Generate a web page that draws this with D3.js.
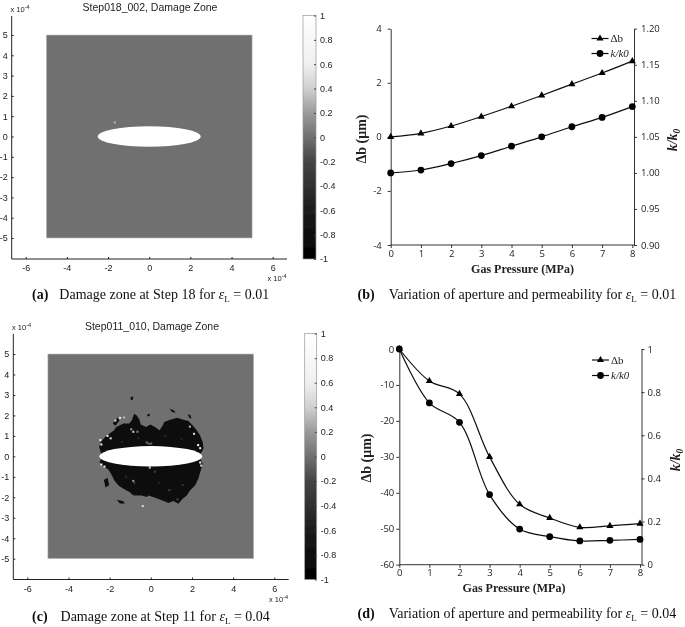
<!DOCTYPE html>
<html>
<head>
<meta charset="utf-8">
<script src="https://cdnjs.cloudflare.com/ajax/libs/d3/7.8.5/d3.min.js"></script>
<style>
  html, body { margin: 0; padding: 0; background: #fff; }
  svg { display: block; }
  .mat text { font-family: "Liberation Sans", Arial, sans-serif; font-size: 9px; fill: #222; }
  .xl text { font-family: "Open Sans", sans-serif; font-size: 9.5px; fill: #222; }
  .serif { font-family: "Liberation Serif", serif; fill: #111; }
</style>
</head>
<body>
<svg id="chart" width="685" height="627"></svg>
<script>
// Gas pressure categories, shared by the two line panels
const pressure = [0, 1, 2, 3, 4, 5, 6, 7, 8];

// Panel (b), eL = 0.01
const apertureLow = [0, 0.13, 0.4, 0.75, 1.13, 1.53, 1.95, 2.36, 2.8];
const permeabilityLow = [1.0, 1.004, 1.013, 1.024, 1.037, 1.05, 1.064, 1.077, 1.092];

// Panel (d), eL = 0.04
const apertureHigh = [0, -8.9, -12.5, -30, -43.2, -47, -49.6, -49.2, -48.6];
const permeabilityHigh = [1, 0.75, 0.66, 0.325, 0.165, 0.13, 0.11, 0.113, 0.117];

// Damage maps, all in units of 1e-4 m
const gridTicks = [-6, -4, -2, 0, 2, 4, 6];
const gridTicksY = [-5, -4, -3, -2, -1, 0, 1, 2, 3, 4, 5];
const colorTicks = [-1, -0.8, -0.6, -0.4, -0.2, 0, 0.2, 0.4, 0.6, 0.8, 1];
const specimenExtent = [-5, 5];
const flawRadii = [2.5, 0.5];

// Single damaged element in panel (a)
const specksLow = [[-1.67, 0.69, 0.3]];

// Outline of the failed region above and below the flaw in panel (c)
const damageUpper = [[-2.51, 0.46], [-2.43, 0.7], [-2.22, 0.94], [-1.97, 1.14], [-1.78, 1.27], [-1.68, 1.43],
  [-1.57, 1.48], [-1.33, 1.6], [-1.04, 1.6], [-0.91, 1.79], [-0.81, 2.08], [-0.68, 2.0], [-0.55, 1.79],
  [-0.49, 1.56], [-0.23, 1.43], [-0.03, 1.55], [0.21, 1.43], [0.42, 1.27], [0.58, 1.51], [0.65, 1.68],
  [0.94, 1.79], [1.29, 1.89], [1.59, 1.79], [1.83, 1.73], [2.04, 1.51], [2.23, 1.27], [2.39, 1.03],
  [2.52, 0.7], [2.56, 0.37], [2.4, 0.1], [0, 0], [-2.4, 0.1]];
const damageLower = [[-2.49, -0.28], [-2.38, -0.44], [-2.22, -0.55], [-2.05, -0.65], [-1.89, -0.93], [-1.78, -1.17],
  [-1.57, -1.42], [-1.33, -1.58], [-1.04, -1.74], [-0.84, -1.91], [-0.44, -1.91], [-0.19, -1.99], [-0.11, -1.91],
  [0.21, -2.02], [0.53, -2.15], [0.86, -2.28], [1.1, -2.18], [1.34, -2.31], [1.55, -2.07], [1.75, -1.91],
  [1.91, -1.66], [2.15, -1.42], [2.31, -1.09], [2.43, -0.68], [2.52, -0.36], [2.4, -0.1], [0, 0], [-2.4, -0.1]];
const damageIslands = [
  [[-1.85, 1.6], [-1.62, 1.88], [-1.52, 1.75], [-1.72, 1.5]],
  [[-2.28, -1.15], [-2.1, -1.05], [-2.02, -1.4], [-2.2, -1.52]],
  [[-1.65, -2.12], [-1.35, -2.18], [-1.25, -2.3], [-1.5, -2.3]],
  [[-0.98, 2.9], [-0.85, 2.92], [-0.88, 2.75], [-0.98, 2.76]],
  [[0.92, 2.32], [1.12, 2.25], [1.2, 2.12], [1.02, 2.18]],
  [[1.8, 2.06], [1.92, 2.02], [1.98, 1.84], [1.86, 1.9]],
  [[-0.18, 2.05], [-0.04, 2.08], [-0.06, 1.96], [-0.16, 1.96]]
];
// x, y, damage value of lighter elements scattered through panel (c)
const specksHigh = [[-0.39, -2.43, 0.5], [-1.49, 1.88, 0.6], [-1.72, 1.75, 0.5], [-1.3, 1.9, 0.3], [-0.85, 1.2, 0.4],
  [-0.65, 1.2, 0.1], [-0.95, 1.32, 0.2], [-2.4, 0.58, 0.8], [-2.45, 0.8, 0.6], [-2.1, 1.0, 0.6], [-1.95, 0.88, 0.5],
  [2.3, 0.55, 0.8], [2.4, 0.4, 0.6], [2.1, 1.1, 0.5], [1.9, 1.45, 0.3], [-2.4, -0.4, 0.8], [-2.25, -0.5, 0.6],
  [2.4, -0.3, 0.9], [2.45, -0.45, 0.5], [-0.1, 0.62, 0], [-0.2, 0.68, 0], [0.02, 0.62, 0], [-0.8, -1.3, -0.3],
  [-0.85, -1.2, 0.2], [0.9, -1.65, -0.2], [1.3, -2.1, -0.2], [1.55, -1.4, -0.4], [0.2, -0.75, -0.3], [-0.05, -0.55, 0.4],
  [-1.4, 0.7, -0.5], [-0.6, 0.9, -0.5], [0.7, 1.0, -0.5], [1.5, 0.85, -0.5], [-1.2, -1.0, -0.5], [0.4, -1.3, -0.5]];

const legendLabels = ["\u0394b", "k/k0"];
const pressureTicks = pressure;
const leftTicksLow = [-4, -2, 0, 2, 4];
const rightTicksLow = [0.9, 0.95, 1.0, 1.05, 1.1, 1.15, 1.2];
const leftTicksHigh = [-60, -50, -40, -30, -20, -10, 0];
const rightTicksHigh = [0, 0.2, 0.4, 0.6, 0.8, 1];

const svg = d3.select("#chart");
const defs = svg.append("defs");
const root = svg.append("g").attr("filter", "url(#soft)");

// The source is a scanned print, so everything is softened a little
defs.append("filter").attr("id", "soft")
  .attr("x", 0).attr("y", 0).attr("width", 1).attr("height", 1)
  .append("feGaussianBlur").attr("stdDeviation", 0.35);

// Damage value to grey level, shared by the maps and their colour bars
const damageColor = d3.scaleLinear()
  .domain([-1, -0.6, -0.2, 0, 0.2, 0.4, 0.6, 1])
  .range(["#000000", "#1c1c1c", "#444444", "#707070", "#9a9a9a", "#d0d0d0", "#f0f0f0", "#ffffff"]);

// Plain hyphen for negatives, as in the original
const plainTick = d => String(d);

function styleAxis(g, color) {
  g.select(".domain").attr("stroke", color).attr("stroke-width", 1);
  g.selectAll(".tick line").attr("stroke", color);
}

function powerLabel(g, x, y) {
  const t = g.append("text").attr("x", x).attr("y", y).style("font-size", "7.5px");
  t.append("tspan").text("x 10");
  t.append("tspan").attr("dy", -3).style("font-size", "5.5px").text("-4");
}

function damagePlot(cfg) {
  const g = root.append("g").attr("class", "mat");
  const x = d3.scaleLinear().domain([-6, 6]).range([cfg.x6n, cfg.x6p]);
  const y = d3.scaleLinear().domain([-5, 5]).range([cfg.y5n, cfg.y5p]);

  g.append("rect")
    .attr("x", x(specimenExtent[0]))
    .attr("y", y(specimenExtent[1]))
    .attr("width", x(specimenExtent[1]) - x(specimenExtent[0]))
    .attr("height", y(specimenExtent[0]) - y(specimenExtent[1]))
    .attr("fill", damageColor(0))
    .attr("stroke", "#c4c4c4").attr("stroke-width", 0.6);

  const line = d3.line().x(d => x(d[0])).y(d => y(d[1]));
  (cfg.regions || []).forEach(r => {
    g.append("path").attr("d", line(r) + "Z").attr("fill", "#101010");
  });

  g.selectAll(".speck").data(cfg.specks).enter().append("rect")
    .attr("class", "speck")
    .attr("x", d => x(d[0]) - 1)
    .attr("y", d => y(d[1]) - 1)
    .attr("width", 2).attr("height", 2)
    .attr("fill", d => damageColor(d[2]));

  // The flaw itself
  g.append("ellipse")
    .attr("cx", x(0)).attr("cy", y(0))
    .attr("rx", x(flawRadii[0]) - x(0))
    .attr("ry", y(0) - y(flawRadii[1]))
    .attr("fill", "#fff");

  // Axes, MATLAB style with the ticks inside
  const xAxis = g.append("g")
    .attr("transform", `translate(0,${cfg.bottom})`)
    .call(d3.axisBottom(x).tickValues(gridTicks).tickFormat(plainTick)
      .tickSizeInner(-2).tickSizeOuter(0).tickPadding(6));
  xAxis.select(".domain").attr("d", `M${cfg.left},0H${cfg.right}`);
  styleAxis(xAxis, "#222");

  const yAxis = g.append("g")
    .attr("transform", `translate(${cfg.left},0)`)
    .call(d3.axisLeft(y).tickValues(gridTicksY).tickFormat(plainTick)
      .tickSizeInner(-2).tickSizeOuter(0).tickPadding(4));
  yAxis.select(".domain").attr("d", `M0,${cfg.top}V${cfg.bottom}`);
  styleAxis(yAxis, "#222");

  g.append("text")
    .attr("x", cfg.titleX).attr("y", cfg.titleY)
    .attr("text-anchor", "middle")
    .style("font-size", "10.5px")
    .text(cfg.title);

  powerLabel(g, cfg.powerTop[0], cfg.powerTop[1]);
  powerLabel(g, cfg.powerBottom[0], cfg.powerBottom[1]);

  // Colour bar
  const bar = d3.scaleLinear().domain([-1, 1]).range([cfg.barBottom, cfg.barTop]);
  const gradId = "bar" + cfg.id;
  defs.append("linearGradient").attr("id", gradId)
    .attr("x1", 0).attr("y1", 1).attr("x2", 0).attr("y2", 0)
    .selectAll("stop").data(damageColor.domain()).enter().append("stop")
    .attr("offset", d => (d + 1) / 2)
    .attr("stop-color", d => damageColor(d));

  g.append("rect")
    .attr("x", cfg.barX).attr("y", cfg.barTop)
    .attr("width", cfg.barW).attr("height", cfg.barBottom - cfg.barTop)
    .attr("fill", `url(#${gradId})`)
    .attr("stroke", "#999").attr("stroke-width", 0.7);

  const barAxis = g.append("g")
    .attr("transform", `translate(${cfg.barX + cfg.barW},0)`)
    .call(d3.axisRight(bar).tickValues(colorTicks).tickFormat(plainTick)
      .tickSizeInner(-2).tickSizeOuter(0).tickPadding(4));
  barAxis.select(".domain").remove();
  barAxis.selectAll(".tick line").attr("stroke", "#444");
}

function pressurePlot(cfg) {
  const g = root.append("g").attr("class", "xl");
  const x = d3.scaleLinear().domain([0, 8]).range([cfg.x0, cfg.x8]);
  const yL = d3.scaleLinear().domain(cfg.leftDomain).range([cfg.bottom, cfg.top]);
  const yR = d3.scaleLinear().domain(cfg.rightDomain).range([cfg.bottom, cfg.top]);

  const xAxis = g.append("g").attr("transform", `translate(0,${cfg.bottom})`)
    .call(d3.axisBottom(x).tickValues(pressureTicks).tickSizeInner(3).tickSizeOuter(0).tickPadding(2));
  xAxis.select(".domain").attr("d", `M${cfg.x0},0H${cfg.rightAxis}`);
  styleAxis(xAxis, "#333");

  const leftAxis = g.append("g").attr("transform", `translate(${cfg.x0},0)`)
    .call(d3.axisLeft(yL).tickValues(cfg.leftTicks).tickFormat(plainTick)
      .tickSizeInner(3).tickSizeOuter(0).tickPadding(cfg.leftPad));
  styleAxis(leftAxis, "#333");

  const rightAxis = g.append("g").attr("transform", `translate(${cfg.rightAxis},0)`)
    .call(d3.axisRight(yR).tickValues(cfg.rightTicks).tickFormat(d3.format(cfg.rightFormat))
      .tickSizeInner(3).tickSizeOuter(0).tickPadding(cfg.rightPad));
  styleAxis(rightAxis, "#333");

  const curve = d3.curveCatmullRom.alpha(0.5);
  const series = [
    {values: cfg.aperture, y: yL, symbol: d3.symbolTriangle, size: 22},
    {values: cfg.permeability, y: yR, symbol: d3.symbolCircle, size: 36}
  ];

  series.forEach(s => {
    g.append("path")
      .attr("d", d3.line().curve(curve).x((d, i) => x(pressure[i])).y(d => s.y(d))(s.values))
      .attr("fill", "none").attr("stroke", "#111").attr("stroke-width", 1.2);
    g.selectAll(null).data(s.values).enter().append("path")
      .attr("d", d3.symbol().type(s.symbol).size(s.size))
      .attr("transform", (d, i) => `translate(${x(pressure[i])},${s.y(d)})`)
      .attr("fill", "#000");
  });

  // Legend
  series.forEach((s, i) => {
    const ly = cfg.legendY[i];
    g.append("line")
      .attr("x1", cfg.legendX).attr("x2", cfg.legendX + 17)
      .attr("y1", ly).attr("y2", ly)
      .attr("stroke", "#111").attr("stroke-width", 1.2);
    g.append("path")
      .attr("d", d3.symbol().type(s.symbol).size(s.size))
      .attr("transform", `translate(${cfg.legendX + 8.5},${ly})`)
      .attr("fill", "#000");
    g.append("text")
      .attr("x", cfg.legendX + 19).attr("y", ly + 3.5)
      .style("font-family", "'Liberation Serif', serif")
      .style("font-size", "11px")
      .style("font-style", i === 1 ? "italic" : "normal")
      .text(legendLabels[i]);
  });

  // Axis titles
  g.append("text")
    .attr("x", cfg.xTitle[0]).attr("y", cfg.xTitle[1])
    .attr("text-anchor", "middle")
    .style("font-family", "'Liberation Serif', serif")
    .style("font-size", "12px").style("font-weight", "bold")
    .text("Gas Pressure (MPa)");

  g.append("text")
    .attr("transform", `translate(${cfg.leftTitle[0]},${cfg.leftTitle[1]}) rotate(-90)`)
    .attr("text-anchor", "middle")
    .style("font-family", "'Liberation Serif', serif")
    .style("font-size", "14px").style("font-weight", "bold")
    .text("\u0394b (\u03bcm)");

  const kTitle = g.append("text")
    .attr("transform", `translate(${cfg.rightTitle[0]},${cfg.rightTitle[1]}) rotate(-90)`)
    .attr("text-anchor", "middle")
    .style("font-family", "'Liberation Serif', serif")
    .style("font-size", "14px").style("font-weight", "bold").style("font-style", "italic");
  kTitle.append("tspan").text("k/k");
  kTitle.append("tspan").attr("dy", 3).style("font-size", "9.5px").text("0");
}

function caption(x, y, tag, gap, body, value) {
  const t = root.append("text").attr("class", "serif").attr("x", x).attr("y", y)
    .style("font-size", "14px");
  t.append("tspan").style("font-weight", "bold").text(tag);
  t.append("tspan").attr("dx", gap).text(body + " ");
  t.append("tspan").style("font-style", "italic").text("\u03b5");
  t.append("tspan").attr("dy", 3).style("font-size", "9px").text("L");
  t.append("tspan").attr("dy", -3).text(" = " + value);
}

damagePlot({
  id: "a", title: "Step018_002, Damage Zone", titleX: 150, titleY: 11,
  x6n: 25.7, x6p: 272.7, y5n: 238, y5p: 35,
  left: 11.7, right: 287, top: 16, bottom: 259,
  powerTop: [10.5, 12], powerBottom: [267.5, 281],
  barX: 303, barW: 13, barTop: 15.5, barBottom: 259,
  regions: [], specks: specksLow
});

damagePlot({
  id: "c", title: "Step011_010, Damage Zone", titleX: 152, titleY: 330,
  x6n: 27.3, x6p: 274.3, y5n: 558.7, y5p: 354,
  left: 13.3, right: 288.7, top: 334, bottom: 579.5,
  powerTop: [12, 330], powerBottom: [269, 602],
  barX: 304.7, barW: 12, barTop: 333.5, barBottom: 579.5,
  regions: [damageUpper, damageLower].concat(damageIslands), specks: specksHigh
});

pressurePlot({
  x0: 390.7, x8: 632.3, rightAxis: 634, top: 28.7, bottom: 245,
  leftDomain: [-4, 4], rightDomain: [0.9, 1.2],
  leftTicks: leftTicksLow, rightTicks: rightTicksLow, rightFormat: ".2f", leftPad: 6, rightPad: 4,
  aperture: apertureLow, permeability: permeabilityLow,
  legendX: 591.5, legendY: [38.5, 53.5],
  xTitle: [522.5, 273], leftTitle: [366, 139], rightTitle: [677, 140]
});

pressurePlot({
  x0: 399.3, x8: 640, rightAxis: 641.5, top: 349, bottom: 564.7,
  leftDomain: [-60, 0], rightDomain: [0, 1],
  leftTicks: leftTicksHigh, rightTicks: rightTicksHigh, rightFormat: "~g", leftPad: 2, rightPad: 3,
  aperture: apertureHigh, permeability: permeabilityHigh,
  legendX: 592, legendY: [360, 375.5],
  xTitle: [514, 592], leftTitle: [371, 458], rightTitle: [680, 460]
});

caption(32, 299, "(a)", 11, "Damage zone at Step 18 for", "0.01");
caption(357.5, 299, "(b)", 14, "Variation of aperture and permeability for", "0.01");
caption(32, 620.5, "(c)", 13, "Damage zone at Step 11 for", "0.04");
caption(357.5, 618, "(d)", 14, "Variation of aperture and permeability for", "0.04");
</script>
</body>
</html>
